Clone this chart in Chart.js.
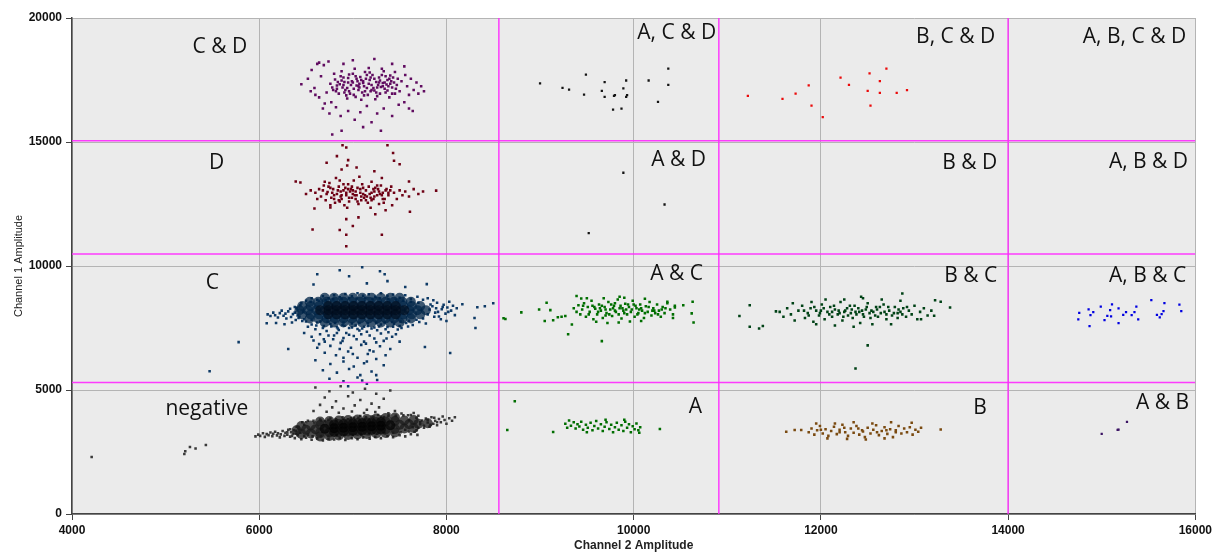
<!DOCTYPE html>
<html>
<head>
<meta charset="utf-8">
<script src="https://cdn.jsdelivr.net/npm/chart.js@4"></script>
<style>
  html, body { margin: 0; padding: 0; background: #fff; }
</style>
</head>
<body>
<canvas id="plot" width="1215" height="553"></canvas>
<script>
// droplet amplitudes, [channel 2, channel 1]
var negative = [
  [5960,3130],[5990,3200],[6010,3150],[6040,3260],[6060,3110],[6080,3220],[6100,3180],[6120,3290],[6140,3140],[6150,3240],
  [6170,3320],[6190,3170],[6200,3260],[6220,3090],[6230,3210],[6250,3350],[6270,3150],[6280,3280],[6300,3200],[6310,3400],
  [6330,3120],[6340,3300],[6360,3230],[6380,3060],[6390,3360],[6410,3180],[6420,3450],
  [6450,3010],[6500,3080],[6560,2990],[6620,3050],[6680,2960],[6740,3030],[6800,3000],[6860,3070],[6920,2980],[6990,3060],
  [7050,3010],[7110,3090],[7180,3040],[7240,3110],[7300,3060],[7370,3140],[7430,3100],[7500,3180],[7560,3130],[7620,3220],[7690,3190],
  [6460,3700],[6520,3760],[6590,3690],[6650,3810],[6700,3740],[6760,3850],[6830,3780],[6890,3900],[6950,3820],[7010,3880],
  [7080,3950],[7140,3860],[7200,3930],[7270,3990],[7330,3910],[7390,4010],[7460,3950],[7520,4050],[7590,3980],[7650,4070],
  [7700,3480],[7720,3620],[7740,3770],[7760,3560],[7780,3850],[7800,3690],[7820,3520],[7840,3900],[7860,3640],[7880,3760],
  [7900,3580],[7920,3830],[7940,3700],[7960,3930],[7980,3790],[8000,3640],[8030,3860],[8060,3760],[8090,3900],
  [6420,3520],[6440,3280],[6480,3600],[6520,3200],[7560,3400],[7600,3780],[7640,3500],[7680,3880],[7660,3320],
  [6300,3300],[6330,3420],[6350,3150],[6370,3380],[6390,3250],[6400,3520],
  [6500,3700],[6580,3760],[6660,3770],[6740,3800],[6820,3820],[6900,3850],[6980,3860],[7060,3880],[7140,3900],[7220,3920],
  [7300,3930],[7380,3950],[7460,3960],[7540,3980],[7620,3990],[7700,3960],
  [6480,3150],[6570,3130],[6660,3140],[6740,3150],[6830,3170],[6910,3180],[7000,3190],[7090,3200],[7170,3220],[7260,3240],
  [7340,3260],[7430,3280],[7510,3300],[7600,3330],[7680,3380],
  [7720,3700],[7760,3480],[7800,3800],[7830,3600],[7870,3880],[7900,3700],
  [4210,2300],[5200,2420],[5210,2530],[5260,2700],[5320,2640],[5430,2780]
];
var negativeCore = [
  [6400,3380],[6500,3400],[6600,3420],[6700,3440],[6800,3460],[6900,3480],[7000,3500],[7100,3520],[7200,3540],[7300,3560],
  [7400,3580],[7500,3600],[7600,3620],[7700,3640],[7800,3660],
  [6450,3550],[6550,3570],[6650,3590],[6750,3610],[6850,3630],[6950,3650],[7050,3670],[7150,3690],[7250,3710],[7350,3730],
  [7450,3750],[7550,3770],[7650,3790],
  [6450,3230],[6550,3250],[6650,3270],[6750,3290],[6850,3310],[6950,3330],[7050,3350],[7150,3370],[7250,3390],[7350,3410],
  [7450,3430],[7550,3450],[7650,3470],
  [6650,3730],[6750,3750],[6850,3770],[6950,3790],[7050,3810],[7150,3830],[7250,3850],[7350,3870],[7450,3890],
  [6650,3130],[6750,3150],[6850,3170],[6950,3190],[7050,3210],[7150,3230],[7250,3250],[7350,3270],[7450,3290]
];
var negativeDense = [
  [6700,3440],[6800,3460],[6900,3480],[7000,3500],[7100,3520],[7200,3540],[7300,3560],[7400,3580],
  [6800,3610],[6900,3630],[7000,3650],[7100,3670],[7200,3690],[7300,3710],
  [6800,3310],[6900,3330],[7000,3350],[7100,3370],[7200,3390],[7300,3410]
];
var rainLow = [
  [6600,5100],[6750,4950],[6870,5150],[7000,4900],[7130,5050],[7250,4850],[7400,4980],[6700,4700],[6820,4550],[6950,4750],
  [7080,4600],[7200,4450],[7330,4650],[6650,4400],[6780,4300],[6900,4250],[7020,4380],[7150,4200],[7280,4300],[7450,4150],
  [6580,4150],[6720,4120],[6850,4080],[6990,4130],[7120,4070],[7240,4110],[7380,4060]
];
var rainHigh = [
  [6600,7450],[6720,7380],[6850,7420],[6930,7300],[7050,7460],[7150,7350],[7260,7410],[7380,7330],[7480,7440],[6480,7300],
  [6560,7150],[6690,7050],[6800,7200],[6900,7100],[7010,7180],[7120,6950],[7230,7080],[7330,6980],[7420,7150],[6640,6850],
  [6760,6780],[6870,6900],[6980,6700],[7090,6820],[7180,6600],[7290,6760],[7400,6650],[6700,6500],[6820,6400],[6950,6550],
  [7050,6300],[7160,6450],[7250,6250],[6600,6200],[6760,6050],[6900,6150],[7010,5950],[7120,6080],[7330,6000],[6680,5800],
  [6830,5700],[6960,5850],[7080,5600],[7200,5750],[6750,5450],[6900,5350],[7050,5500],[7150,5250],[7260,5400],
  [6520,7550],[6610,7600],[6680,7500],[6770,7560],[6840,7480],[6910,7590],[6990,7520],[7070,7400],[7120,7550],[7200,7480],
  [7280,7560],[7350,7450],[7430,7550],[7520,7500],[7590,7560],[6650,7250],[6740,7200],[6830,7300],[6960,7230],[7090,7250],
  [7180,7200],[7300,7280],[7460,7250],[6580,7000],[6700,6950],[6790,7050],[6890,6980],[7040,7050],[7140,6870],[7250,6920],
  [7360,7080],[7500,6950],[6620,6700],[6860,6650],[7000,6450],[7220,6550],[7350,6400],[6900,6300],[7150,6150],[7250,5600],
  [6950,5150],[7100,5380]
];
var clusterC = [
  [6090,8050],[6120,7980],[6150,8120],[6170,8010],[6200,7920],[6220,8100],[6240,8200],[6260,7990],[6280,8080],[6290,7880],
  [6310,8170],[6330,8280],[6340,7940],[6360,8060],[6380,8350],[6390,7820],[6410,8210],[6430,7960],[6440,8420],[6460,7780],
  [6080,7690],[6180,7700],[6270,7650],[6350,7720],
  [6500,8600],[6560,8700],[6620,8640],[6680,8780],[6740,8700],[6800,8820],[6860,8740],[6920,8870],[6990,8780],[7050,8900],
  [7110,8800],[7170,8860],[7240,8760],[7300,8900],[7370,8800],[7430,8850],[7500,8720],[7560,8820],[7620,8680],[7690,8760],
  [7750,8640],[7800,8700],
  [6500,7760],[6560,7640],[6620,7720],[6690,7580],[6760,7660],[6830,7530],[6890,7620],[6960,7500],[7030,7600],[7100,7480],
  [7160,7580],[7230,7520],[7300,7640],[7370,7540],[7440,7660],[7500,7580],[7570,7700],[7640,7620],[7710,7740],[7780,7680],
  [7850,8380],[7880,8120],[7900,8520],[7920,7960],[7950,8260],[7970,8440],[7990,8080],[8010,8330],[8030,8560],[8050,8200],
  [8070,8400],[8090,8020],[8110,8300],[7860,8620],[7940,7850],[8000,7780],
  [6380,8120],[6400,8300],[6410,8000],[6420,7900],[6450,8500],[6470,8150],[6480,7850],
  [6550,8560],[6640,8600],[6710,8620],[6790,8660],[6880,8680],[6960,8700],[7040,8690],[7130,8710],[7210,8680],[7290,8700],
  [7380,8670],[7460,8640],[7540,8600],[7620,8560],[7700,8520],
  [6560,7830],[6650,7760],[6730,7750],[6810,7700],[6900,7720],[6990,7680],[7070,7700],[7160,7690],[7250,7710],[7340,7720],
  [7420,7740],[7510,7760],[7600,7790],[7680,7830],[7750,7880],
  [7800,8050],[7820,8250],[7830,8450],[7870,7950],[7890,8300],[7910,8150],[7960,8350],[8020,8150],
  [6620,9670],[6860,9830],[7100,9950],[7290,9790],[7340,9670],[6960,9590],[7370,9390],[7790,9270],[8170,8460],[8330,8340],
  [8410,8380],[8500,8500],[8300,7900],[8310,7500],[5780,6930],[5470,5760],[7770,6730],[8040,6490],[6310,6650],[6580,9250],
  [7150,9300],[7560,9150]
];
var clusterCCore = [
  [6430,8220],[6520,8220],[6610,8220],[6700,8220],[6790,8220],[6880,8220],[6970,8220],[7060,8220],[7150,8220],[7240,8220],
  [7330,8220],[7420,8220],[7510,8220],[7600,8220],[7690,8220],[7780,8220],
  [6460,8390],[6550,8390],[6640,8390],[6730,8390],[6820,8390],[6910,8390],[7000,8390],[7090,8390],[7180,8390],[7270,8390],
  [7360,8390],[7450,8390],[7540,8390],[7630,8390],[7720,8390],
  [6460,8050],[6550,8050],[6640,8050],[6730,8050],[6820,8050],[6910,8050],[7000,8050],[7090,8050],[7180,8050],[7270,8050],
  [7360,8050],[7450,8050],[7540,8050],[7630,8050],[7720,8050],
  [6540,8560],[6630,8560],[6720,8560],[6810,8560],[6900,8560],[6990,8560],[7080,8560],[7170,8560],[7260,8560],[7350,8560],
  [7440,8560],[7530,8560],[7620,8560],
  [6540,7880],[6630,7880],[6720,7880],[6810,7880],[6900,7880],[6990,7880],[7080,7880],[7170,7880],[7260,7880],[7350,7880],
  [7440,7880],[7530,7880],[7620,7880],
  [6700,8720],[6800,8720],[6900,8720],[7000,8720],[7100,8720],[7200,8720],[7300,8720],[7400,8720],[7500,8720],
  [6700,7720],[6800,7720],[6900,7720],[7000,7720],[7100,7720],[7200,7720],[7300,7720],[7400,7720],[7500,7720]
];
var clusterCDense = [
  [6650,8220],[6740,8220],[6830,8220],[6920,8220],[7010,8220],[7100,8220],[7190,8220],[7280,8220],[7370,8220],[7460,8220],[7550,8220],
  [6740,8390],[6830,8390],[6920,8390],[7010,8390],[7100,8390],[7190,8390],[7280,8390],[7370,8390],[7460,8390],
  [6740,8050],[6830,8050],[6920,8050],[7010,8050],[7100,8050],[7190,8050],[7280,8050],[7370,8050],[7460,8050]
];
var clusterD = [
  [6600,12950],[6640,13100],[6660,12800],[6690,13250],[6710,12650],[6730,12980],[6750,13350],[6770,12750],[6790,13100],[6810,12550],
  [6830,12900],[6850,13200],[6860,13450],[6880,12700],[6900,13050],[6910,12450],[6930,12850],[6950,13300],[6960,12600],[6980,13100],
  [7000,12900],[7010,13450],[7030,12700],[7050,13150],[7060,12500],[7080,12950],[7100,13300],[7120,12750],[7140,13050],[7160,12550],
  [7180,12900],[7200,13400],[7220,12700],[7240,13150],[7260,12850],[7280,12500],[7300,13250],[7320,12950],[7340,12700],[7360,13100],
  [7380,12850],[7410,13200],[7440,12950],[7470,12700],[7500,13050],[7530,12850],[6620,12700],[6700,13400],[6820,13550],[6940,12350],
  [7070,13600],[7190,12350],[7310,13550],[7420,12450],[6760,12450],[6870,13000],[6990,12750],[7110,13150],[7230,13000],[6800,12850],
  [6920,13150],[7040,12850],[7150,12800],[7270,13100],[6970,13000],[7090,12650],[6850,12650],[7200,12650],[7330,12550],[6680,13050],
  [7560,13000],[7600,12800],[7650,13100],[7700,12900],[7750,13000],[6550,13050],[6500,12900],
  [6720,12900],[6760,13150],[6800,12700],[6840,13050],[6870,12800],[6900,13300],[6930,12950],[6960,12750],[6990,13200],[7020,12850],
  [7050,12600],[7080,13100],[7110,12900],[7140,12650],[7170,13200],[7200,12950],[7230,12800],[7260,13250],[7290,12900],[7320,12700],
  [7350,13050],[7380,12950],[6780,12950],[6860,12600],[6950,13100],[7030,13000],[7130,12850],[7220,13100],[7310,12850],[7400,13050],
  [6740,13200],[6880,12850],[7000,13050],[7090,12800],[7190,12750],[7280,13000],
  [6890,14870],[6930,14780],[7370,14870],[7430,14560],[7440,14240],[7500,14100],[6830,14430],[6720,14160],[6950,14270],[6940,14050],
  [7040,13970],[6880,13890],[7230,13820],[6390,13410],[6440,13370],[7600,13410],[7890,13040],[7610,12190],[6590,12320],[6760,12360],
  [7240,12090],[6930,11890],[7060,11960],[7000,11610],[6570,11470],[6860,11450],[6930,11260],[7310,11260],[6930,10800],[7350,12250]
];
var clusterCD = [
  [6760,17350],[6790,17100],[6810,17520],[6830,17280],[6850,16950],[6870,17650],[6890,17200],[6910,17420],[6930,16880],[6950,17580],
  [6960,17050],[6980,17300],[7000,17750],[7010,17150],[7030,16820],[7050,17450],[7060,17250],[7080,17620],[7100,17000],[7110,17380],
  [7130,17820],[7150,17180],[7160,16900],[7180,17500],[7200,17300],[7210,17700],[7230,17080],[7250,17420],[7260,16850],[7280,17600],
  [7300,17220],[7320,17380],[7330,17850],[7350,17000],[7370,17500],[7380,17250],[7400,17680],[7420,16950],[7440,17400],[7460,17150],
  [7480,17550],[6800,17750],[6880,17850],[6940,16750],[7020,17950],[7090,16700],[7170,17980],[7240,16720],[7310,17950],[7390,16800],
  [7450,17820],[6840,17420],[6920,17100],[7040,17550],[7120,17250],[7190,17050],[7270,17300],[7340,17150],[7410,17450],[7070,17350],
  [6990,17450],[7140,17550],[7220,17180],[6900,17300],[7290,17480],[7360,17320],[7470,17300],[6780,17200],[7500,17050],[7520,17450],
  [6820,17050],[6860,17330],[6900,17600],[6940,17180],[6970,16950],[7000,17400],[7030,17650],[7060,17100],[7090,17500],[7120,16880],
  [7150,17700],[7170,17350],[7200,17100],[7230,17550],[7260,17200],[7290,16950],[7310,17700],[7340,17400],[7370,17080],[7400,17350],
  [7430,17600],[7450,16950],[6880,17480],[6960,17720],[7040,17280],[7110,17450],[7190,17600],[7250,17000],[7320,17250],[7390,17550],
  [6830,17150],[6950,17400],[7070,17200],[7130,17050],[7280,17400],[7350,17650],[7010,16900],[7180,17800],[6910,17000],[7420,17200],
  [6450,17330],[6520,17550],[6560,17900],[6590,17180],[6620,18150],[6640,16800],[6660,17650],[6690,18100],[6700,16550],[6720,17000],
  [6740,18250],[6770,16600],[7560,17700],[7580,17250],[7600,16900],[7620,17550],[7650,17100],[7680,17400],[7700,16950],[7730,17250],
  [7760,17050],[7550,16600],[7600,16350],[7640,16250],[6680,16350],[6750,16150],[6820,16400],[6870,16050],[6950,16250],[7020,15900],
  [7080,16200],[7150,16450],[7200,15800],[7260,16150],[7330,16350],[7420,16050],[7490,16500],[6880,15450],[7110,15600],[7300,15450],
  [6780,15300],[7000,18300],[7230,18350],[6900,18150],[7420,18150],[7550,18050],[6640,18200],[6600,16900],[6550,17050]
];
var clusterAC = [
  [9360,8300],[9390,8150],[9410,8420],[9430,8050],[9450,8250],[9470,8500],[9490,7950],[9510,8350],[9530,8150],[9550,8600],
  [9570,7850],[9590,8280],[9610,8050],[9630,8450],[9650,8200],[9670,7900],[9690,8350],[9710,8100],[9730,8550],[9750,8250],
  [9770,7980],[9790,8400],[9810,8150],[9830,8650],[9850,8300],[9870,7880],[9890,8200],[9910,8480],[9930,8050],[9950,8350],
  [9970,8150],[9990,8600],[10010,7950],[10030,8300],[10050,8100],[10070,8450],[10090,8200],[10110,7900],[10130,8380],[10150,8150],
  [10170,8550],[10190,8000],[10210,8300],[10230,8100],[10250,8450],[10270,8200],[10290,7950],[10310,8350],[10330,8100],[10360,8500],
  [10390,8250],[10420,8050],[10440,8400],[9600,7750],[9720,7700],[9840,7720],[9960,7760],[10080,7780],[9680,8700],[9900,8720],
  [10120,8680],[9500,8700],[9800,8500],[10000,8450],[9700,8000],[9920,8250],[10060,8250],[9560,8400],[9780,8300],[10200,8200],
  [9460,8400],[9520,8050],[9580,8350],[9620,8150],[9660,8400],[9700,8250],[9740,8050],[9760,8450],[9800,8200],[9840,8050],
  [9860,8400],[9900,8100],[9940,8450],[9980,8250],[10020,8400],[10040,8050],[10080,8300],[10120,8100],[10160,8350],[10220,8200],
  [10260,8050],[10300,8250],[10340,8300],[9640,8300],[9880,8300],
  [8610,7890],[8630,7860],[8800,8130],[8990,8250],[9070,8520],[9110,8220],[9140,7810],[9190,7930],[9230,7950],[9270,7980],
  [9050,7780],[9340,7640],[9300,7250],[9660,6970],[9390,8790],[9440,8690],[10530,8420],[10630,8560],[10620,8090],[10640,7720],
  [10440,8330],[10420,7900],[10360,8560],[9850,8760]
];
var clusterA = [
  [9270,3640],[9290,3480],[9310,3770],[9330,3560],[9360,3700],[9380,3450],[9400,3620],[9420,3530],[9440,3720],[9460,3400],
  [9490,3600],[9510,3480],[9540,3680],[9560,3380],[9580,3550],[9600,3750],[9620,3450],[9650,3620],[9670,3350],[9690,3520],
  [9710,3700],[9740,3430],[9760,3600],[9780,3300],[9800,3500],[9820,3680],[9840,3400],[9870,3580],[9890,3350],[9910,3720],
  [9930,3480],[9950,3620],[9970,3300],[9990,3540],[10010,3420],[10030,3650],[10050,3380],[10070,3500],[10060,3280],[9500,3300],
  [9700,3800],[9900,3800],[8730,4550],[8650,3390],[9140,3310],[10280,3430]
];
var clusterBC = [
  [11560,8150],[11600,7950],[11640,8300],[11680,8050],[11720,7800],[11760,8200],[11800,8400],[11830,7900],[11860,8100],[11890,8300],
  [11920,7750],[11950,8200],[11980,8000],[12010,8450],[12040,7850],[12070,8150],[12100,8350],[12120,7950],[12150,8250],[12180,8050],
  [12210,8550],[12230,7800],[12260,8200],[12290,8000],[12310,8400],[12340,7900],[12370,8150],[12400,8300],[12420,7700],[12450,8050],
  [12480,8250],[12500,8500],[12530,7900],[12560,8150],[12590,8350],[12610,7950],[12640,8100],[12670,8450],[12700,7850],[12730,8200],
  [12760,8000],[12790,8350],[12820,7900],[12850,8150],[12880,8300],[12910,7950],[12940,8200],[12970,8050],[13000,8400],[13030,7850],
  [13060,8150],[13100,8300],[13140,8000],[13180,8200],[11700,8500],[11900,8550],[12050,8650],[12250,8650],[12450,8700],[12650,8650],
  [12850,8600],[11950,7650],[12150,7600],[12350,7550],[12550,7650],[12750,7650],[12200,8100],[12380,8050],[12600,8250],[12000,8200],
  [12820,8100],[12330,8250],[12120,8150],[12520,8100],[12700,8050],
  [11820,8200],[11870,8000],[11930,8350],[11990,8100],[12030,8300],[12090,8050],[12140,8400],[12190,8200],[12240,7950],[12280,8300],
  [12320,8100],[12360,8400],[12410,8150],[12460,7950],[12490,8350],[12540,8200],[12580,8000],[12630,8350],[12680,8150],[12720,8350],
  [12780,8100],[12830,8250],[12870,8050],[12920,8350],[12440,8200],[12250,8150],
  [11130,7980],[11240,8420],[11240,7550],[11340,7480],[11380,7580],[12500,6800],[12370,5870],[12870,8890],[12430,8760],[13380,8330],
  [13280,8560],[13220,8620],[13210,7990],[13070,7850],[11520,8170]
];
var clusterB = [
  [11870,3300],[11900,3450],[11930,3200],[11960,3380],[11990,3550],[12020,3250],[12050,3420],[12080,3150],[12110,3350],[12140,3520],
  [12170,3220],[12200,3400],[12230,3600],[12260,3300],[12290,3150],[12320,3450],[12350,3280],[12380,3550],[12410,3200],[12440,3380],
  [12470,3100],[12500,3480],[12530,3250],[12560,3400],[12590,3580],[12620,3180],[12650,3350],[12680,3500],[12710,3230],[12740,3420],
  [12770,3100],[12800,3380],[12830,3550],[12860,3250],[12890,3450],[12920,3300],[12950,3500],[12980,3200],[13010,3400],[13040,3320],
  [11950,3650],[12150,3650],[12350,3700],[12550,3650],[12750,3700],[12070,3050],[12280,3030],[12480,3000],[12680,3050],[12000,3400],
  [12200,3300],[12400,3450],[12600,3300],[12800,3300],[12250,3480],[12450,3330],[12700,3380],
  [11630,3320],[11720,3390],[11790,3390],[13070,3480],[13280,3410],[12970,3680]
];
var clusterACD = [
  [9000,17360],[9240,17180],[9310,17110],[9490,17720],[9470,16910],[9690,17410],[9660,17060],[9690,16820],[9790,16860],[9800,16890],
  [9780,16310],[9870,16350],[9890,17160],[9920,17480],[9930,16890],[9920,16820],[10160,17480],[10370,17960],[10370,17300],[10260,16620]
];
var clusterBCD = [
  [11220,16860],[11590,16740],[11730,16950],[11870,17280],[11900,16470],[12020,16000],[12210,17600],[12300,17300],
  [12500,17060],[12520,17770],[12530,16470],[12630,16980],[12630,17450],[12700,17960],[12810,16980],[12920,17090]
];
var clusterAD = [[9890,13760],[10330,12480],[9520,11330]];
var clusterABC = [
  [14760,8110],[14750,7850],[14860,8250],[14870,7580],[14910,8140],[14880,8020],[14990,8360],[15030,7820],[15060,7990],[15090,8220],
  [15100,7970],[15110,8450],[15180,7700],[15180,8290],[15230,8030],[15260,8140],[15320,8020],[15350,8140],[15370,8360],[15390,7850],
  [15530,8620],[15590,8030],[15620,7930],[15640,8060],[15660,8180],[15670,8500],[15830,8440],[15850,8180]
];
var clusterAB = [[15000,3230],[15170,3390],[15180,3400],[15270,3710]];

// thresholds
var ch1Thresholds = [5300, 10480, 15050];
var ch2Thresholds = [8560, 10910, 14000];

// quadrant names and where they sit
var regionNames = ['C & D', 'A, C & D', 'B, C & D', 'A, B, C & D',
                   'D', 'A & D', 'B & D', 'A, B & D',
                   'C', 'A & C', 'B & C', 'A, B & C',
                   'negative', 'A', 'B', 'A & B'];
var regionX = [5580, 10460, 13440, 15350,
               5545, 10480, 13590, 15500,
               5500, 10460, 13600, 15490,
               5440, 10660, 13700, 15650];
var regionY = [18820, 19380, 19220, 19220,
               14150, 14270, 14150, 14190,
               9310, 9670, 9590, 9590,
               4230, 4310, 4270, 4470];

function toPts(arr) {
  return arr.map(function (p) { return { x: p[0], y: p[1] }; });
}

function cloud(arr, color, r, style) {
  return {
    type: 'scatter',
    data: toPts(arr),
    backgroundColor: color,
    borderWidth: 0,
    pointRadius: r,
    pointHoverRadius: r,
    pointStyle: style || 'rect'
  };
}

var datasets = [];
ch1Thresholds.forEach(function (v) {
  datasets.push({ type: 'line', data: [{ x: 4000, y: v }, { x: 16000, y: v }],
    borderColor: 'rgba(255,40,255,0.9)', borderWidth: 1.5, pointRadius: 0 });
});
ch2Thresholds.forEach(function (v) {
  datasets.push({ type: 'line', data: [{ x: v, y: 0 }, { x: v, y: 20000 }],
    borderColor: 'rgba(255,40,255,0.9)', borderWidth: 1.5, pointRadius: 0 });
});

// dense cores are stacked translucent discs so the overlaps darken towards the centre
datasets.push(cloud(negativeDense, 'rgba(0,0,0,0.6)', 5, 'circle'));
datasets.push(cloud(negativeCore, 'rgba(25,25,25,0.75)', 5, 'circle'));
datasets.push(cloud(negative, 'rgb(58,58,58)', 1.8));
datasets.push(cloud(rainLow, 'rgb(58,58,58)', 1.8));
datasets.push(cloud(clusterCDense, 'rgba(0,10,25,0.6)', 5, 'circle'));
datasets.push(cloud(clusterCCore, 'rgba(2,38,72,0.75)', 5, 'circle'));
datasets.push(cloud(clusterC, 'rgb(14,58,102)', 1.8));
datasets.push(cloud(rainHigh, 'rgb(14,58,102)', 1.8));
datasets.push(cloud(clusterD, 'rgb(110,0,20)', 1.8));
datasets.push(cloud(clusterCD, 'rgb(96,12,96)', 1.8));
datasets.push(cloud(clusterAC, 'rgb(0,110,0)', 1.8));
datasets.push(cloud(clusterA, 'rgb(0,110,0)', 1.8));
datasets.push(cloud(clusterBC, 'rgb(0,66,22)', 1.8));
datasets.push(cloud(clusterB, 'rgb(122,74,16)', 1.8));
datasets.push(cloud(clusterACD, 'rgb(20,20,20)', 1.6));
datasets.push(cloud(clusterAD, 'rgb(20,20,20)', 1.6));
datasets.push(cloud(clusterBCD, 'rgb(235,10,10)', 1.6));
datasets.push(cloud(clusterABC, 'rgb(0,0,225)', 1.6));
datasets.push(cloud(clusterAB, 'rgb(60,20,100)', 1.6));

var plotBg = {
  id: 'plotBg',
  beforeDraw: function (chart) {
    var a = chart.chartArea, ctx = chart.ctx;
    ctx.save();
    ctx.fillStyle = '#ebebeb';
    ctx.fillRect(a.left, a.top, a.right - a.left, a.bottom - a.top);
    ctx.restore();
  }
};

var regionLabels = {
  id: 'regionLabels',
  afterDatasetsDraw: function (chart) {
    var ctx = chart.ctx, sx = chart.scales.x, sy = chart.scales.y;
    ctx.save();
    ctx.fillStyle = '#111';
    ctx.font = '21px "Open Sans", sans-serif';
    ctx.textAlign = 'center';
    ctx.textBaseline = 'middle';
    for (var i = 0; i < regionNames.length; i++) {
      ctx.fillText(regionNames[i], sx.getPixelForValue(regionX[i]), sy.getPixelForValue(regionY[i]));
    }
    ctx.restore();
  }
};

new Chart(document.getElementById('plot').getContext('2d'), {
  type: 'scatter',
  data: { datasets: datasets },
  plugins: [plotBg, regionLabels],
  options: {
    responsive: false,
    animation: false,
    layout: { padding: { left: 0, right: 17, top: 18, bottom: 0 } },
    plugins: { legend: { display: false }, tooltip: { enabled: false } },
    scales: {
      x: {
        type: 'linear',
        min: 4000, max: 16000,
        afterFit: function (s) { s.height = 39; },
        ticks: { stepSize: 2000, padding: 3, color: '#111',
          font: { family: '"Liberation Sans Narrow", "Liberation Sans", sans-serif', size: 12, weight: 'bold' },
          callback: function (v) { return String(v); } },
        grid: { color: '#b4b4b4', lineWidth: 1, tickLength: 6, tickColor: '#444' },
        border: { color: '#444', width: 1.5 },
        title: { display: true, text: 'Channel 2 Amplitude', color: '#222', padding: { top: 0, bottom: 0 },
          font: { family: '"Liberation Sans Narrow", "Liberation Sans", sans-serif', size: 12, weight: 'bold' } }
      },
      y: {
        type: 'linear',
        min: 0, max: 20000,
        afterFit: function (s) { s.width = 72; },
        ticks: { stepSize: 5000, padding: 4, color: '#111',
          font: { family: '"Liberation Sans", Arial, sans-serif', size: 12, weight: 'bold' },
          callback: function (v) { return String(v); } },
        grid: { color: '#b4b4b4', lineWidth: 1, tickLength: 6, tickColor: '#444' },
        border: { color: '#444', width: 1.5 },
        title: { display: true, text: 'Channel 1 Amplitude', color: '#222', padding: { top: 12, bottom: 0 },
          font: { family: '"Liberation Sans", Arial, sans-serif', size: 11 } }
      }
    }
  }
});
</script>
</body>
</html>
